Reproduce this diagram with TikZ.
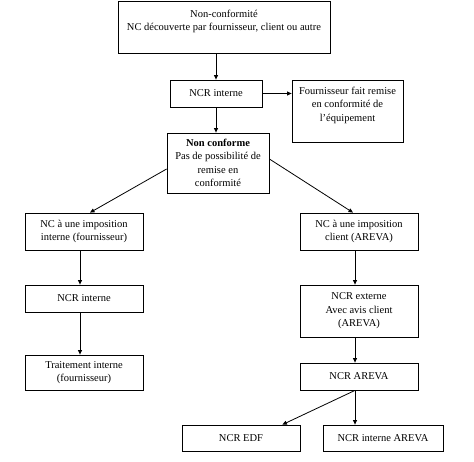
\documentclass[tikz,border=0pt]{standalone}
\usepackage{fontspec}
\setmainfont{Liberation Serif}
\usetikzlibrary{arrows.meta}

\begin{document}
\begin{tikzpicture}[x=1pt, y=-1pt,
  box/.style={draw, line width=0.8pt, align=center, inner sep=2pt, font=\fontsize{10.5pt}{13.5pt}\selectfont},
  arr/.style={line width=0.8pt, -{Triangle[length=4.5pt,width=4pt]}}]
\useasboundingbox (0,0) rectangle (474,462);

\node [box, minimum width=212pt, minimum height=52pt] (top) at (224,27) {Non-conformité\\NC découverte par fournisseur, client ou autre\\~};
\node [box, minimum width=92pt, minimum height=27pt] (ncr1) at (216,93.5) {NCR interne};
\node [box, minimum width=111pt, minimum height=62pt] (four) at (347.5,111) {Fournisseur fait remise\\en conformité de\\l’équipement\\~};
\node [box, minimum width=102pt, minimum height=60pt] (nonconf) at (218,163) {\textbf{Non conforme}\\Pas de possibilité de\\remise en\\conformité};

% % branche fournisseur
\node [box, minimum width=118pt, minimum height=37pt] (imint) at (84,231.5) {NC à une imposition\\interne (fournisseur)};
\node [box, minimum width=118pt, minimum height=27pt] (ncrint) at (84,298.5) {NCR interne};
\node [box, minimum width=118pt, minimum height=35pt] (trait) at (84,372.5) {Traitement interne\\(fournisseur)};

% % branche client
\node [box, minimum width=118pt, minimum height=37pt] (imcli) at (359,231.5) {NC à une imposition\\client (AREVA)};
\node [box, minimum width=118pt, minimum height=52pt] (ncrext) at (359,311) {NCR externe\\Avec avis client\\(AREVA)};
\node [box, minimum width=118pt, minimum height=27pt] (ncrareva) at (359,376.5) {NCR AREVA};
\node [box, minimum width=118pt, minimum height=26pt] (edf) at (241,438) {NCR EDF};
\node [box, minimum width=120pt, minimum height=26pt] (intareva) at (383,438) {NCR interne AREVA};

\draw [arr] (top.south -| ncr1.north) -- (ncr1.north);
\draw [arr] (ncr1.south) -- (ncr1.south |- nonconf.north);
\draw [arr] (ncr1.east) -- (ncr1.east -| four.west);

\draw [arr] ([yshift=-6pt]nonconf.west) -- ([xshift=6pt]imint.north);
\draw [arr] ([yshift=4pt]nonconf.east) -- ([xshift=-6pt]imcli.north);

\draw [arr] ([xshift=-4pt]imint.south) -- ([xshift=-4pt]ncrint.north);
\draw [arr] ([xshift=-4pt]ncrint.south) -- ([xshift=-4pt]trait.north);

\draw [arr] ([xshift=-4pt]imcli.south) -- ([xshift=-4pt]ncrext.north);
\draw [arr] ([xshift=-4pt]ncrext.south) -- ([xshift=-4pt]ncrareva.north);
\draw [arr] ([xshift=-4pt]ncrareva.south) -- ([xshift=-18pt]edf.north east);
\draw [arr] ([xshift=-4pt]ncrareva.south) -- ([xshift=-4pt]ncrareva.south |- intareva.north);
\end{tikzpicture}
\end{document}
